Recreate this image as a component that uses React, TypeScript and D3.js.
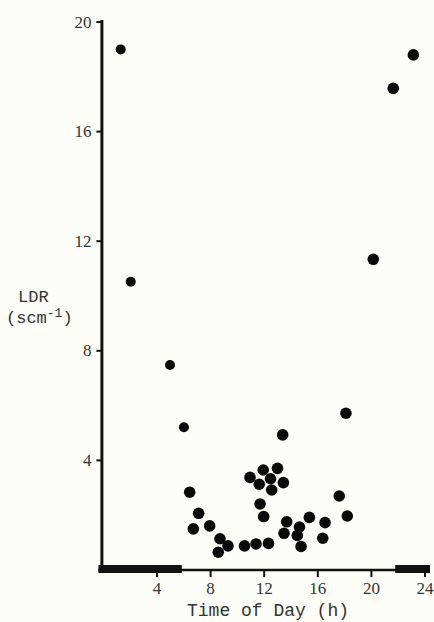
//@ts-nocheck
import * as d3 from "d3";
import React, { useEffect, useRef } from "react";

// time of day (h) and LDR (scm-1)
const hours = [
  1.29, 2.04, 4.97, 6.01, 23.13, 21.63, 20.14, 13.38, 18.1, 10.94, 11.93, 12.99,
  12.47, 11.63, 13.43, 12.56, 6.44, 11.69, 11.96, 7.11, 6.71, 7.93, 13.68,
  13.48, 8.7, 9.3, 8.57, 10.53, 11.39, 12.32, 15.37, 16.54, 14.63, 14.47, 16.37,
  14.75, 17.6, 18.2,
];
const ldr = [
  19.0, 10.52, 7.48, 5.21, 18.8, 17.58, 11.34, 4.93, 5.72, 3.38, 3.65, 3.71,
  3.33, 3.13, 3.19, 2.92, 2.84, 2.41, 1.95, 2.07, 1.5, 1.61, 1.76, 1.34, 1.14,
  0.88, 0.65, 0.88, 0.95, 0.97, 1.92, 1.73, 1.57, 1.26, 1.16, 0.86, 2.7, 1.97,
];

// dark periods drawn as heavy bars on the time axis
const darkStart = [0, 22];
const darkEnd = [6, 24];

const xTicks = [4, 8, 12, 16, 20, 24];
const yTicks = [4, 8, 12, 16, 20];

const chart = () => {
  const width = 434;
  const height = 622;

  const x = d3.scaleLinear().domain([0, 24]).range([103.4, 425]);
  const y = d3.scaleLinear().domain([0, 20]).range([570, 22]);

  const svg = d3
    .create("svg")
    .attr("width", width)
    .attr("height", height)
    .attr("viewBox", [0, 0, width, height])
    .attr("style", "position:absolute;left:0;top:0;background:#fdfdf7;");

  svg
    .append("rect")
    .attr("width", width)
    .attr("height", height)
    .attr("fill", "#fdfdf7");

  // axes
  const ax = svg.append("g").attr("stroke", "#111").attr("fill", "none");
  ax.append("line")
    .attr("x1", x(0) - 1.5)
    .attr("x2", x(0) - 1.5)
    .attr("y1", y(20) - 2)
    .attr("y2", y(0) + 2)
    .attr("stroke-width", 3);
  ax.append("line")
    .attr("x1", x(0) - 5)
    .attr("x2", x(24) + 5)
    .attr("y1", y(0))
    .attr("y2", y(0))
    .attr("stroke-width", 2.5);

  ax.selectAll(".yt")
    .data(yTicks)
    .join("line")
    .attr("x1", x(0) - 7)
    .attr("x2", x(0) - 1.5)
    .attr("y1", (d) => y(d))
    .attr("y2", (d) => y(d))
    .attr("stroke-width", 2);

  ax.selectAll(".xt")
    .data(xTicks)
    .join("line")
    .attr("x1", (d) => x(d))
    .attr("x2", (d) => x(d))
    .attr("y1", y(0))
    .attr("y2", y(0) + 7)
    .attr("stroke-width", 2);

  svg
    .append("g")
    .attr("fill", "#111")
    .selectAll("rect")
    .data(darkStart)
    .join("rect")
    .attr("x", (d) => (d === 0 ? x(d) - 5 : x(d) - 3))
    .attr("width", (d, i) => x(darkEnd[i]) - x(d) + (d === 0 ? 3 : 8))
    .attr("y", y(0) - 5)
    .attr("height", 8);

  // tick labels
  const serif = "'Liberation Serif', 'DejaVu Serif', serif";
  svg
    .append("g")
    .attr("font-family", serif)
    .attr("font-size", 17)
    .attr("fill", "#333")
    .attr("text-anchor", "end")
    .selectAll("text")
    .data(yTicks)
    .join("text")
    .attr("x", x(0) - 12)
    .attr("y", (d) => y(d))
    .attr("dy", "0.33em")
    .text((d) => d);

  svg
    .append("g")
    .attr("font-family", serif)
    .attr("font-size", 17)
    .attr("fill", "#333")
    .attr("text-anchor", "middle")
    .selectAll("text")
    .data(xTicks)
    .join("text")
    .attr("x", (d) => x(d))
    .attr("y", 594)
    .text((d) => d);

  // axis titles
  const mono = "'Liberation Mono', 'DejaVu Sans Mono', monospace";
  svg
    .append("text")
    .attr("font-family", mono)
    .attr("font-size", 18)
    .attr("fill", "#333")
    .attr("text-anchor", "middle")
    .attr("x", 268)
    .attr("y", 616)
    .text("Time of Day (h)");

  svg
    .append("text")
    .attr("font-family", mono)
    .attr("font-size", 17)
    .attr("fill", "#333")
    .attr("x", 18)
    .attr("y", 302)
    .text("LDR");

  const unit = svg
    .append("text")
    .attr("font-family", mono)
    .attr("font-size", 17)
    .attr("fill", "#333")
    .attr("x", 6)
    .attr("y", 323);
  unit.append("tspan").text("(scm");
  unit.append("tspan").attr("dy", -6).attr("font-size", 13).text("-1");
  unit.append("tspan").attr("dy", 6).text(")");

  // points
  svg
    .append("g")
    .attr("fill", "#0a0a0a")
    .selectAll("circle")
    .data(hours)
    .join("circle")
    .attr("cx", (d) => x(d))
    .attr("cy", (d, i) => y(ldr[i]))
    .attr("r", (d, i) => (i < 4 ? 5 : 5.8));

  return svg.node();
};

export default function App() {
  const holderRef = useRef<HTMLDivElement | null>(null);

  useEffect(() => {
    const holder = holderRef.current;
    if (!holder || holder.hasChildNodes()) return;
    holder.appendChild(chart());
  }, []);

  return <div ref={holderRef}></div>;
}
